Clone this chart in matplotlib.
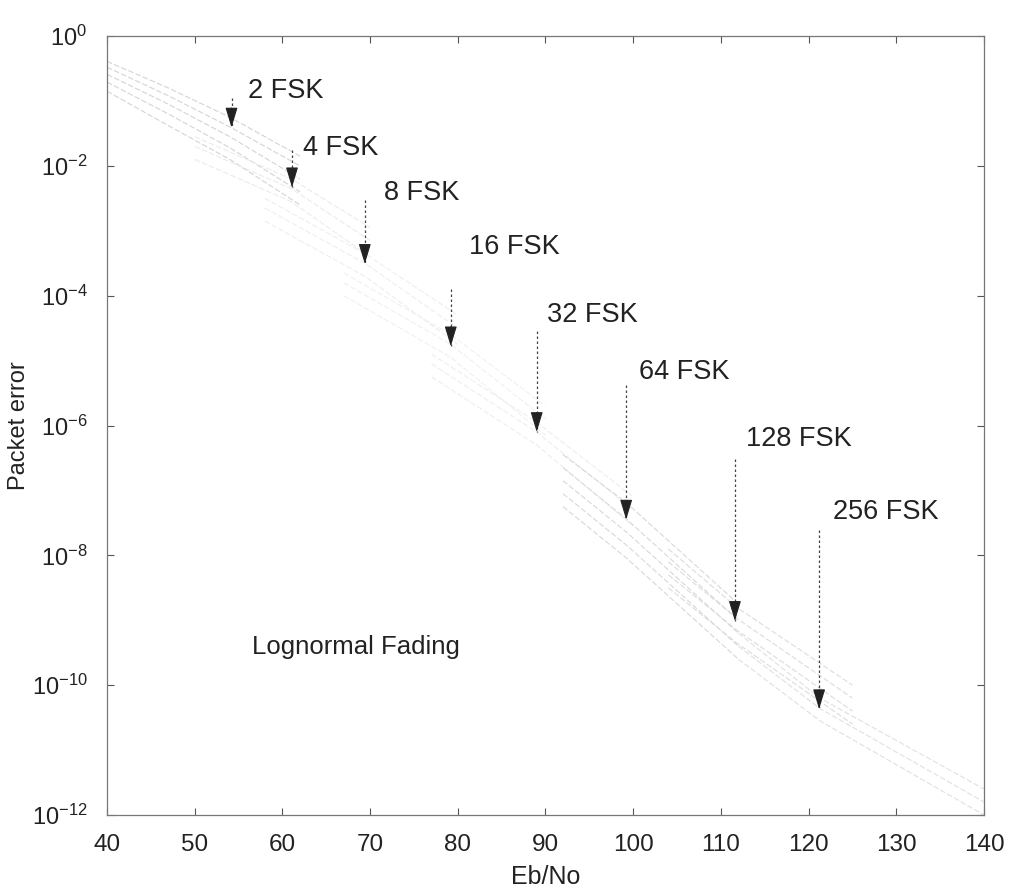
import numpy as np
import matplotlib
matplotlib.use("Agg")
import matplotlib.pyplot as plt

plt.rcParams['font.family'] = ['Liberation Sans', 'DejaVu Sans']
plt.rcParams['mathtext.fontset'] = 'custom'
plt.rcParams['mathtext.rm'] = 'Liberation Sans'
plt.rcParams['mathtext.it'] = 'Liberation Sans:italic'
plt.rcParams['mathtext.default'] = 'regular'

# ---------------- data (log10 of packet error) ----------------
labels = ["2 FSK", "4 FSK", "8 FSK", "16 FSK", "32 FSK", "64 FSK", "128 FSK", "256 FSK"]

# arrow tips and tails (Eb/No, log10 error)
arrow_x = [54.2, 61.1, 69.4, 79.2, 89.0, 99.2, 111.6, 121.2]
arrow_tip = [-1.41, -2.33, -3.51, -4.78, -6.10, -7.45, -9.01, -10.37]
arrow_tail = [-0.95, -1.75, -2.53, -3.90, -4.55, -5.37, -6.52, -7.61]

# label anchors (left edge, vertical centre)
label_x = [56.1, 62.4, 71.6, 81.3, 90.2, 100.7, 112.9, 122.8]
label_y = [-0.85, -1.72, -2.42, -3.25, -4.30, -5.17, -6.21, -7.34]

# faint curve families, one x grid per modulation order
curve_x = {
    "2 FSK":   [40, 47, 54, 62],
    "4 FSK":   [50, 61, 70],
    "8 FSK":   [58, 69.4, 80],
    "16 FSK":  [67, 79.2, 90],
    "32 FSK":  [77, 89, 100],
    "64 FSK":  [92, 99.3, 112],
    "128 FSK": [104, 111.8, 125],
    "256 FSK": [112, 121.3, 140],
}
curve_y = {
    "2 FSK":   [[-0.39, -0.80, -1.25, -1.85],
                [-0.48, -0.92, -1.40, -2.00],
                [-0.59, -1.05, -1.55, -2.20],
                [-0.71, -1.20, -1.72, -2.40],
                [-0.85, -1.38, -1.90, -2.60]],
    "4 FSK":   [[-1.55, -2.20, -2.95], [-1.70, -2.35, -3.15], [-1.90, -2.55, -3.40]],
    "8 FSK":   [[-2.50, -3.35, -4.30], [-2.65, -3.50, -4.50], [-2.85, -3.70, -4.75]],
    "16 FSK":  [[-3.65, -4.60, -5.70], [-3.80, -4.75, -5.90], [-4.00, -4.95, -6.15]],
    "32 FSK":  [[-4.90, -5.95, -7.10], [-5.05, -6.10, -7.30], [-5.25, -6.30, -7.55]],
    "64 FSK":  [[-6.45, -7.20, -8.75], [-6.65, -7.45, -9.00], [-6.85, -7.65, -9.20],
                [-7.05, -7.85, -9.40], [-7.25, -8.05, -9.60]],
    "128 FSK": [[-7.90, -8.80, -10.00], [-8.10, -8.97, -10.20], [-8.30, -9.15, -10.40],
                [-8.50, -9.35, -10.60]],
    "256 FSK": [[-9.20, -10.20, -11.60], [-9.40, -10.36, -11.80], [-9.60, -10.55, -12.00]],
}
# visibility of each family in the (faded) original
curve_color = {
    "2 FSK": '#d4d4d4', "4 FSK": '#ebebeb', "8 FSK": '#eeeeee', "16 FSK": '#f0f0f0',
    "32 FSK": '#eeeeee', "64 FSK": '#d8d8d8', "128 FSK": '#dcdcdc', "256 FSK": '#e0e0e0',
}

x_ticks = [40, 50, 60, 70, 80, 90, 100, 110, 120, 130, 140]
y_tick_exp = [0, -2, -4, -6, -8, -10, -12]

# ---------------- figure ----------------
fig = plt.figure(figsize=(10.11, 8.96), dpi=100)
ax = fig.add_axes([0.1058, 0.0904, 0.8675, 0.8694])
ax.set_yscale('log')

for lab in labels:
    xs = curve_x[lab]
    for ys in curve_y[lab]:
        ax.plot(xs, [10.0 ** v for v in ys], color=curve_color[lab], lw=0.8,
                linestyle=(0, (5, 2)), zorder=1)

for x, tip, tail in zip(arrow_x, arrow_tip, arrow_tail):
    ax.plot([x, x], [10.0 ** tail, 10.0 ** tip], color='#444444', lw=0.9,
            linestyle=(0, (2, 2)), zorder=2)
    ax.annotate('', xy=(x, 10.0 ** tip), xytext=(0, 14), textcoords='offset points',
                arrowprops=dict(arrowstyle='-|>,head_length=1.25,head_width=0.38',
                                color='#222222', lw=0.8, shrinkA=0, shrinkB=0,
                                mutation_scale=10), zorder=3)

for lab, lx, ly in zip(labels, label_x, label_y):
    ax.text(lx, 10.0 ** ly, lab, fontsize=19.5, color='#222222', ha='left', va='center')

ax.text(56.5, 10.0 ** -9.41, "Lognormal Fading", fontsize=18.5, color='#222222',
        ha='left', va='center')

ax.set_xlim(40, 140)
ax.set_ylim(1e-12, 1)
ax.set_xticks(x_ticks)
ax.set_xticklabels([str(t) for t in x_ticks])
ax.set_yticks([10.0 ** e for e in y_tick_exp])
ax.set_yticklabels([r'$10^{%d}$' % e for e in y_tick_exp])
ax.yaxis.set_minor_locator(matplotlib.ticker.NullLocator())

ax.tick_params(axis='both', direction='in', length=5, width=0.8, color='#555555',
               top=True, right=True)
ax.tick_params(axis='x', labelsize=17.5, pad=14, labelcolor='#222222')
ax.tick_params(axis='y', labelsize=17, pad=14, labelcolor='#222222')

for s in ax.spines.values():
    s.set_color('#777777')
    s.set_linewidth(0.9)

ax.set_xlabel('Eb/No', fontsize=18, color='#222222', labelpad=6)
ax.set_ylabel('Packet error', fontsize=17, color='#222222')
ax.yaxis.set_label_coords(-0.088, 0.5)

fig.savefig('out.png', dpi=100, facecolor='white')
